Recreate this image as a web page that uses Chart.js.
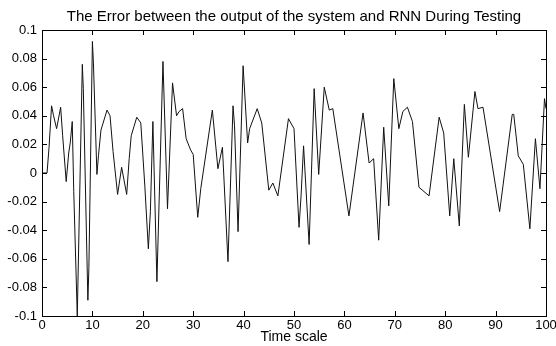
<!DOCTYPE html>
<html>
<head>
<meta charset="utf-8">
<script src="https://cdn.jsdelivr.net/npm/chart.js@4/dist/chart.umd.min.js"></script>
<style>
  html, body { margin: 0; padding: 0; background: #fff; }
  #wrap { width: 556px; height: 346px; }
</style>
</head>
<body>
<div id="wrap"><canvas id="errChart" width="556" height="346"></canvas></div>
<script>
// error trace (time, error)
const timeValues = [
  0, 1, 1.4, 1.9, 2.3, 2.9, 3.7, 4.1, 4.8, 5.3, 5.6, 6.0, 6.3, 7.0, 8.0, 8.2, 9.1, 9.3,
  10.0, 10.2, 10.9, 11.2, 11.7, 12.9, 13.5, 14.1, 15.0, 15.8, 16.8, 17.3, 17.7, 18.8, 19.6,
  20.4, 21.1, 21.5, 22.0, 22.8, 24.0, 24.9, 25.9, 26.7, 27.2, 27.9, 28.6, 29.5, 30.0,
  30.9, 31.5, 33.8, 34.9, 35.8, 36.9, 37.9, 38.2, 38.9, 39.9, 40.8, 41.2, 42.7, 43.6,
  45.0, 45.8, 46.8, 48.9, 50.0, 51.0, 51.4, 51.9, 53.0, 54.0, 54.9, 56.0, 57.0, 57.7,
  60.9, 63.7, 64.9, 65.8, 66.8, 67.8, 68.8, 69.8, 70.8, 71.6, 72.5, 73.5, 74.8, 76.8,
  78.8, 79.7, 80.9, 81.7, 82.8, 83.8, 84.6, 85.9, 86.5, 87.5, 90.8, 93.3, 93.6, 94.5,
  95.5, 96.8, 97.9, 98.8, 99.7, 100
];
const errorValues = [
  0, 0, 0.018, 0.047, 0.040, 0.031, 0.046, 0.026, -0.006, 0.014, 0.021, 0.036, -0.013, -0.1, 0.076, 0.059, -0.089, -0.067,
  0.092, 0.077, -0.001, 0.012, 0.030, 0.044, 0.040, 0.015, -0.015, 0.004, -0.015, 0.010, 0.026, 0.039, 0.035,
  -0.009, -0.053, -0.027, 0.036, -0.076, 0.078, -0.025, 0.063, 0.040, 0.043, 0.045, 0.024, 0.016, 0.013,
  -0.031, -0.011, 0.044, 0.003, 0.018, -0.062, 0.047, 0.033, -0.041, 0.075, 0.021, 0.031, 0.045, 0.035,
  -0.012, -0.007, -0.016, 0.038, 0.031, -0.038, -0.016, 0.019, -0.050, 0.059, -0.001, 0.060, 0.044, 0.045,
  -0.030, 0.042, 0.007, 0.010, -0.047, 0.032, -0.023, 0.066, 0.031, 0.043, 0.046, 0.036, -0.010, -0.016,
  0.039, 0.028, -0.030, 0.010, -0.037, 0.048, 0.011, 0.057, 0.045, 0.046, -0.027, 0.041, 0.041, 0.012,
  0.006, -0.039, 0.024, -0.011, 0.052, 0.045
];

const xTicks = [0, 10, 20, 30, 40, 50, 60, 70, 80, 90, 100];
const yTicks = [-0.1, -0.08, -0.06, -0.04, -0.02, 0, 0.02, 0.04, 0.06, 0.08, 0.1];

const points = timeValues.map((t, i) => ({ x: t, y: errorValues[i] }));

const fontFamily = '"Liberation Sans", Arial, sans-serif';

// MATLAB style box with inward ticks on all four sides
const boxTicks = {
  id: 'boxTicks',
  afterDatasetsDraw(chart) {
    const { ctx, chartArea: a, scales } = chart;
    const len = 5;
    ctx.save();
    ctx.strokeStyle = '#000';
    ctx.lineWidth = 1;
    ctx.beginPath();
    scales.x.ticks.forEach((t) => {
      const px = Math.round(scales.x.getPixelForValue(t.value)) + 0.5;
      ctx.moveTo(px, a.bottom);
      ctx.lineTo(px, a.bottom - len);
      ctx.moveTo(px, a.top);
      ctx.lineTo(px, a.top + len);
    });
    scales.y.ticks.forEach((t) => {
      const py = Math.round(scales.y.getPixelForValue(t.value)) + 0.5;
      ctx.moveTo(a.left, py);
      ctx.lineTo(a.left + len, py);
      ctx.moveTo(a.right, py);
      ctx.lineTo(a.right - len, py);
    });
    ctx.stroke();
    ctx.strokeRect(Math.round(a.left) + 0.5, Math.round(a.top) + 0.5,
      Math.round(a.right - a.left), Math.round(a.bottom - a.top));
    ctx.restore();
  }
};

new Chart(document.getElementById('errChart'), {
  type: 'line',
  data: {
    datasets: [{
      label: 'Error',
      data: points,
      borderColor: '#111',
      borderWidth: 1,
      pointRadius: 0,
      tension: 0,
      fill: false
    }]
  },
  options: {
    responsive: false,
    animation: false,
    layout: { padding: { top: 0, right: 10, left: 0, bottom: 0 } },
    plugins: {
      legend: { display: false },
      tooltip: { enabled: false },
      title: {
        display: true,
        text: 'The Error between the output of the system and RNN During Testing',
        color: '#000',
        fullSize: false,
        font: { family: fontFamily, size: 15, weight: 'normal' },
        padding: { top: 8, bottom: 4 }
      }
    },
    scales: {
      x: {
        type: 'linear',
        min: 0,
        max: 100,
        afterBuildTicks: (scale) => { scale.ticks = xTicks.map((v) => ({ value: v })); },
        afterFit: (scale) => {
          scale.height = 30;
          scale.paddingLeft = 0;
          scale.paddingRight = 0;
        },
        border: { display: false },
        grid: { display: false, drawTicks: false },
        ticks: {
          color: '#000',
          padding: 2,
          maxRotation: 0,
          font: { family: fontFamily, size: 13 },
          callback: (v) => String(v)
        },
        title: {
          display: true,
          text: 'Time scale',
          color: '#000',
          font: { family: fontFamily, size: 14 },
          padding: { top: 0, bottom: 0 }
        }
      },
      y: {
        type: 'linear',
        min: -0.1,
        max: 0.1,
        afterBuildTicks: (scale) => { scale.ticks = yTicks.map((v) => ({ value: v })); },
        afterFit: (scale) => {
          scale.width = 42;
          scale.paddingTop = 0;
          scale.paddingBottom = 0;
        },
        border: { display: false },
        grid: { display: false, drawTicks: false },
        ticks: {
          color: '#000',
          padding: 5,
          font: { family: fontFamily, size: 13 },
          callback: (v) => String(Number(v.toFixed(2)))
        }
      }
    }
  },
  plugins: [boxTicks]
});
</script>
</body>
</html>
